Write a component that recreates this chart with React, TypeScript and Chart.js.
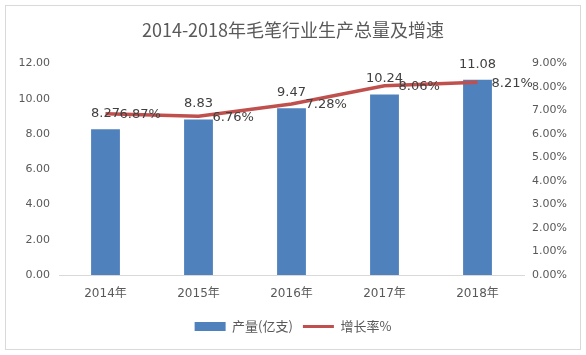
import React, { useEffect, useRef } from "react";
import { Chart, registerables } from "chart.js";

Chart.register(...registerables);

const categories = ["2014年", "2015年", "2016年", "2017年", "2018年"];
const output = [8.27, 8.83, 9.47, 10.24, 11.08];
const growth = [6.87, 6.76, 7.28, 8.06, 8.21];
const titleText = "2014-2018年毛笔行业生产总量及增速";
const barLabel = "产量(亿支)";
const lineLabel = "增长率%";

const TEXT = "#595959";
const FONT = "'DejaVu Sans', 'Noto Sans CJK SC', sans-serif";

const labelPlugin = {
  id: "valueLabels",
  afterDatasetsDraw(chart: any) {
    const ctx = chart.ctx;
    ctx.save();
    ctx.font = "13px " + FONT;
    ctx.fillStyle = "#404040";
    const barMeta = chart.getDatasetMeta(0);
    barMeta.data.forEach((el: any, i: number) => {
      ctx.textAlign = "center";
      ctx.textBaseline = "bottom";
      ctx.fillText(output[i].toFixed(2), el.x, el.y - 9);
    });
    const lineMeta = chart.getDatasetMeta(1);
    lineMeta.data.forEach((el: any, i: number) => {
      ctx.textAlign = "left";
      ctx.textBaseline = "middle";
      ctx.fillText(growth[i].toFixed(2) + "%", el.x + 14, el.y + 1);
    });
    ctx.restore();
  },
};

export default function App() {
  const ref = useRef<HTMLCanvasElement>(null);
  useEffect(() => {
    const chart = new Chart(ref.current!, {
      data: {
        labels: categories,
        datasets: [
          {
            type: "bar",
            label: barLabel,
            data: output,
            yAxisID: "y",
            backgroundColor: "#4F81BD",
            borderWidth: 0,
            categoryPercentage: 1,
            barPercentage: 0.31,
            order: 1,
          },
          {
            type: "line",
            label: lineLabel,
            data: growth,
            yAxisID: "y1",
            borderColor: "#C0504D",
            backgroundColor: "#C0504D",
            borderWidth: 3.5,
            pointRadius: 0,
            tension: 0,
            order: 0,
          },
        ] as any,
      },
      options: {
        animation: false,
        responsive: false,
        layout: { padding: { top: 5, left: 6, right: 6, bottom: 12 } },
        plugins: {
          title: {
            display: true,
            text: titleText,
            color: TEXT,
            font: { size: 18, family: "'Noto Sans CJK SC', sans-serif", weight: "normal" },
            padding: { top: 14, bottom: 23 },
          },
          legend: {
            position: "bottom",
            labels: {
              color: TEXT,
              font: { size: 13, family: "'Noto Sans CJK SC', sans-serif" },
              usePointStyle: true,
              boxHeight: 9,
              pointStyleWidth: 31,
              padding: 10,
              sort: (a: any, b: any) => a.datasetIndex - b.datasetIndex,
              generateLabels(chart: any) {
                const items = Chart.defaults.plugins.legend.labels.generateLabels(chart);
                return items.map((it: any) => {
                  const ds = chart.data.datasets[it.datasetIndex];
                  if (ds.type === "line") {
                    it.pointStyle = "line";
                    it.lineWidth = 3;
                    it.strokeStyle = "#C0504D";
                  } else {
                    it.pointStyle = "rect";
                    it.lineWidth = 0;
                    it.fillStyle = "#4F81BD";
                  }
                  return it;
                });
              },
            },
          },
          tooltip: { enabled: false },
        },
        scales: {
          x: {
            grid: { display: false, drawTicks: false },
            border: { display: true, color: "#D9D9D9" },
            ticks: { color: TEXT, font: { size: 12, family: FONT }, padding: 12 },
            afterFit: (s: any) => { s.height = 35; },
          },
          y: {
            position: "left",
            min: 0,
            max: 12,
            grid: { display: false, drawTicks: false },
            border: { display: false },
            ticks: {
              stepSize: 2,
              color: TEXT,
              font: { size: 11, family: FONT },
              padding: 9,
              callback: (v: any) => Number(v).toFixed(2),
            },
            afterFit: (s: any) => { s.width = 53; },
          },
          y1: {
            position: "right",
            min: 0,
            max: 9,
            grid: { display: false, drawTicks: false },
            border: { display: false },
            ticks: {
              stepSize: 1,
              color: TEXT,
              font: { size: 11, family: FONT },
              padding: 8,
              callback: (v: any) => Number(v).toFixed(2) + "%",
            },
            afterFit: (s: any) => { s.width = 56; },
          },
        },
      },
      plugins: [labelPlugin],
    } as any);
    return () => chart.destroy();
  }, []);
  return (
    <div style={{ position: "fixed", left: 0, top: 0, width: 586, height: 355, background: "#fff" }}>
      <div
        style={{
          position: "absolute",
          left: 5,
          top: 5,
          width: 574,
          height: 343,
          border: "1px solid #D9D9D9",
        }}
      />
      <canvas ref={ref} width={586} height={355} style={{ position: "absolute", left: 0, top: 0 }} />
    </div>
  );
}
